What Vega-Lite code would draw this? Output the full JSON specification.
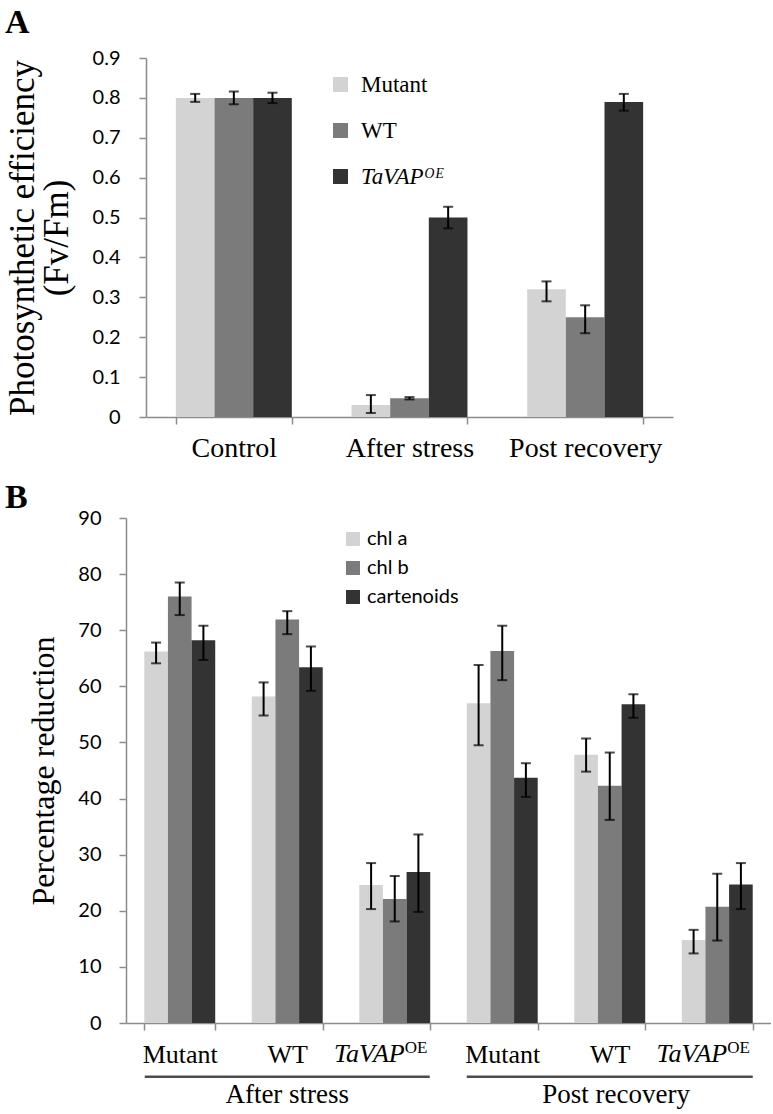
{
  "$schema": "https://vega.github.io/schema/vega-lite/v6.json",
  "background": "white",
  "padding": {"left": 5, "top": 6, "right": 0, "bottom": 0},
  "config": {
    "view": {"stroke": null},
    "axis": {"grid": false, "domainColor": "#8c8c8c", "tickColor": "#8c8c8c", "domainWidth": 1.5, "tickWidth": 1.5, "tickSize": 7, "labelColor": "black", "titleColor": "black", "titleFontWeight": "normal"}
  },
  "columns": 1,
  "spacing": 19,
  "resolve": {"scale": {"color": "independent", "xOffset": "independent", "x": "independent", "y": "independent"}, "legend": {"color": "independent"}},
  "concat": [
    {
      "width": 547,
      "height": 359,
      "title": {"text": "\u00a0A", "anchor": "start", "frame": "group", "dx": -121, "font": "Liberation Serif", "fontSize": 34, "fontWeight": "bold", "baseline": "alphabetic", "offset": -19, "color": "black"},
      "data": {"values": [
        {"cond": "Control", "geno": "Mutant", "v": 0.80, "lo": 0.79, "hi": 0.81},
        {"cond": "Control", "geno": "WT", "v": 0.80, "lo": 0.784, "hi": 0.816},
        {"cond": "Control", "geno": "TaVAP", "v": 0.80, "lo": 0.787, "hi": 0.813},
        {"cond": "After stress", "geno": "Mutant", "v": 0.03, "lo": 0.01, "hi": 0.055},
        {"cond": "After stress", "geno": "WT", "v": 0.047, "lo": 0.044, "hi": 0.05},
        {"cond": "After stress", "geno": "TaVAP", "v": 0.50, "lo": 0.473, "hi": 0.527},
        {"cond": "Post recovery", "geno": "Mutant", "v": 0.32, "lo": 0.29, "hi": 0.34},
        {"cond": "Post recovery", "geno": "WT", "v": 0.25, "lo": 0.21, "hi": 0.28},
        {"cond": "Post recovery", "geno": "TaVAP", "v": 0.79, "lo": 0.768, "hi": 0.81}
      ]},
      "encoding": {
        "x": {"field": "cond", "type": "nominal", "sort": ["Control", "After stress", "Post recovery"],
          "scale": {"range": [20, 547], "paddingInner": 0.34, "paddingOuter": 0.17},
          "axis": {"title": null, "labelAngle": 0, "labelFont": "Liberation Serif", "labelFontSize": 28, "labelPadding": 10, "tickBand": "extent"}},
        "xOffset": {"field": "geno", "type": "nominal", "scale": {"domain": ["Mutant", "WT", "TaVAP"]}}
      },
      "layer": [
        {
          "mark": {"type": "bar"},
          "encoding": {
            "y": {"field": "v", "type": "quantitative", "scale": {"domain": [0, 0.9]},
              "axis": {"offset": -20, "values": [0, 0.1, 0.2, 0.3, 0.4, 0.5, 0.6, 0.7, 0.8, 0.9], "labelOverlap": false, "labelExpr": "datum.value == 0 ? '0' : format(datum.value, '.1f')", "labelFont": "Lato", "labelFontSize": 20, "labelPadding": 19,
                "title": ["Photosynthetic efficiency", "(Fv/Fm)"], "titleFont": "Liberation Serif", "titleFontSize": 35, "titleLineHeight": 34, "titlePadding": 18}},
            "color": {"field": "geno", "type": "nominal",
              "scale": {"domain": ["Mutant", "WT", "TaVAP"], "range": ["#d3d3d3", "#7b7b7b", "#333333"]},
              "legend": {"title": null, "orient": "none", "legendX": 203, "legendY": 15, "symbolType": "square", "symbolSize": 225, "symbolStrokeWidth": 0, "symbolOpacity": 1,
                "labelFont": "Liberation Serif", "labelFontSize": 23, "labelOffset": 9, "rowPadding": 22,
                "labelExpr": "datum.value == 'TaVAP' ? 'TaVAP\u1d3c\u1d31' : datum.value == 'WT' ? '\u2002WT' : datum.value",
                "encode": {"labels": {"update": {"fontStyle": {"signal": "datum.value == 'TaVAP' ? 'italic' : 'normal'"}}}}}}
          }
        },
        {
          "mark": {"type": "rule", "color": "black", "strokeWidth": 2},
          "encoding": {"y": {"field": "lo", "type": "quantitative",
              "axis": {"offset": -20, "values": [0, 0.1, 0.2, 0.3, 0.4, 0.5, 0.6, 0.7, 0.8, 0.9], "labelOverlap": false, "labelExpr": "datum.value == 0 ? '0' : format(datum.value, '.1f')", "labelFont": "Lato", "labelFontSize": 20, "labelPadding": 19,
                "title": ["Photosynthetic efficiency", "(Fv/Fm)"], "titleFont": "Liberation Serif", "titleFontSize": 35, "titleLineHeight": 34, "titlePadding": 18}},
            "y2": {"field": "hi"}}
        },
        {
          "mark": {"type": "tick", "color": "black", "thickness": 2, "size": 10},
          "encoding": {"y": {"field": "lo", "type": "quantitative",
              "axis": {"offset": -20, "values": [0, 0.1, 0.2, 0.3, 0.4, 0.5, 0.6, 0.7, 0.8, 0.9], "labelOverlap": false, "labelExpr": "datum.value == 0 ? '0' : format(datum.value, '.1f')", "labelFont": "Lato", "labelFontSize": 20, "labelPadding": 19,
                "title": ["Photosynthetic efficiency", "(Fv/Fm)"], "titleFont": "Liberation Serif", "titleFontSize": 35, "titleLineHeight": 34, "titlePadding": 18}}}
        },
        {
          "mark": {"type": "tick", "color": "black", "thickness": 2, "size": 10},
          "encoding": {"y": {"field": "hi", "type": "quantitative",
              "axis": {"offset": -20, "values": [0, 0.1, 0.2, 0.3, 0.4, 0.5, 0.6, 0.7, 0.8, 0.9], "labelOverlap": false, "labelExpr": "datum.value == 0 ? '0' : format(datum.value, '.1f')", "labelFont": "Lato", "labelFontSize": 20, "labelPadding": 19,
                "title": ["Photosynthetic efficiency", "(Fv/Fm)"], "titleFont": "Liberation Serif", "titleFontSize": 35, "titleLineHeight": 34, "titlePadding": 18}}}
        }
      ]
    },
    {
      "width": 645,
      "height": 505,
      "title": {"text": "\u00a0B", "anchor": "start", "frame": "group", "dx": -121, "font": "Liberation Serif", "fontSize": 34, "fontWeight": "bold", "baseline": "alphabetic", "offset": -34, "color": "black"},
      "data": {"values": [
        {"grp": "AS_Mutant", "pig": "chl a", "v": 66.2, "lo": 64.1, "hi": 67.8},
        {"grp": "AS_Mutant", "pig": "chl b", "v": 76.0, "lo": 72.7, "hi": 78.5},
        {"grp": "AS_Mutant", "pig": "cartenoids", "v": 68.2, "lo": 64.7, "hi": 70.8},
        {"grp": "AS_WT", "pig": "chl a", "v": 58.2, "lo": 54.8, "hi": 60.7},
        {"grp": "AS_WT", "pig": "chl b", "v": 71.9, "lo": 69.3, "hi": 73.4},
        {"grp": "AS_WT", "pig": "cartenoids", "v": 63.4, "lo": 59.2, "hi": 67.1},
        {"grp": "AS_TaVAP", "pig": "chl a", "v": 24.6, "lo": 20.3, "hi": 28.5},
        {"grp": "AS_TaVAP", "pig": "chl b", "v": 22.1, "lo": 18.1, "hi": 26.2},
        {"grp": "AS_TaVAP", "pig": "cartenoids", "v": 26.9, "lo": 19.8, "hi": 33.6},
        {"grp": "PR_Mutant", "pig": "chl a", "v": 57.0, "lo": 49.5, "hi": 63.8},
        {"grp": "PR_Mutant", "pig": "chl b", "v": 66.3, "lo": 61.1, "hi": 70.8},
        {"grp": "PR_Mutant", "pig": "cartenoids", "v": 43.7, "lo": 40.3, "hi": 46.3},
        {"grp": "PR_WT", "pig": "chl a", "v": 47.8, "lo": 44.8, "hi": 50.7},
        {"grp": "PR_WT", "pig": "chl b", "v": 42.3, "lo": 36.2, "hi": 48.2},
        {"grp": "PR_WT", "pig": "cartenoids", "v": 56.8, "lo": 54.4, "hi": 58.6},
        {"grp": "PR_TaVAP", "pig": "chl a", "v": 14.8, "lo": 12.4, "hi": 16.6},
        {"grp": "PR_TaVAP", "pig": "chl b", "v": 20.7, "lo": 14.7, "hi": 26.6},
        {"grp": "PR_TaVAP", "pig": "cartenoids", "v": 24.7, "lo": 20.3, "hi": 28.5}
      ]},
      "encoding": {
        "x": {"field": "grp", "type": "nominal", "sort": ["AS_Mutant", "AS_WT", "AS_TaVAP", "PR_Mutant", "PR_WT", "PR_TaVAP"],
          "scale": {"paddingInner": 0.34, "paddingOuter": 0.17},
          "axis": {"title": null, "labelAngle": 0, "labelFont": "Liberation Serif", "labelFontSize": 26, "labelPadding": 11, "tickBand": "extent",
            "labelExpr": "isString(datum.value) && indexof(datum.value, 'TaVAP') < 0 ? split(datum.value, '_')[1] : ''"}}
      },
      "layer": [
        {
          "mark": {"type": "bar"},
          "encoding": {
            "xOffset": {"field": "pig", "type": "nominal", "scale": {"domain": ["chl a", "chl b", "cartenoids"]}},
            "y": {"field": "v", "type": "quantitative", "scale": {"domain": [0, 90]},
              "axis": {"values": [0, 10, 20, 30, 40, 50, 60, 70, 80, 90], "labelOverlap": false, "labelFont": "Lato", "labelFontSize": 20, "labelPadding": 18,
                "title": "Percentage reduction", "titleFont": "Liberation Serif", "titleFontSize": 32, "titlePadding": 17}},
            "color": {"field": "pig", "type": "nominal",
              "scale": {"domain": ["chl a", "chl b", "cartenoids"], "range": ["#d3d3d3", "#7b7b7b", "#333333"]},
              "legend": {"title": null, "orient": "none", "legendX": 217, "legendY": 11, "symbolType": "square", "symbolSize": 196, "symbolStrokeWidth": 0, "symbolOpacity": 1,
                "labelFont": "Lato", "labelFontSize": 20, "labelOffset": 4, "rowPadding": 9}}
          }
        },
        {
          "mark": {"type": "rule", "color": "black", "strokeWidth": 2},
          "encoding": {"xOffset": {"field": "pig", "type": "nominal", "scale": {"domain": ["chl a", "chl b", "cartenoids"]}},
            "y": {"field": "lo", "type": "quantitative",
              "axis": {"values": [0, 10, 20, 30, 40, 50, 60, 70, 80, 90], "labelOverlap": false, "labelFont": "Lato", "labelFontSize": 20, "labelPadding": 18,
                "title": "Percentage reduction", "titleFont": "Liberation Serif", "titleFontSize": 32, "titlePadding": 17}},
            "y2": {"field": "hi"}}
        },
        {
          "mark": {"type": "tick", "color": "black", "thickness": 2, "size": 10},
          "encoding": {"xOffset": {"field": "pig", "type": "nominal", "scale": {"domain": ["chl a", "chl b", "cartenoids"]}},
            "y": {"field": "lo", "type": "quantitative",
              "axis": {"values": [0, 10, 20, 30, 40, 50, 60, 70, 80, 90], "labelOverlap": false, "labelFont": "Lato", "labelFontSize": 20, "labelPadding": 18,
                "title": "Percentage reduction", "titleFont": "Liberation Serif", "titleFontSize": 32, "titlePadding": 17}}}
        },
        {
          "mark": {"type": "tick", "color": "black", "thickness": 2, "size": 10},
          "encoding": {"xOffset": {"field": "pig", "type": "nominal", "scale": {"domain": ["chl a", "chl b", "cartenoids"]}},
            "y": {"field": "hi", "type": "quantitative",
              "axis": {"values": [0, 10, 20, 30, 40, 50, 60, 70, 80, 90], "labelOverlap": false, "labelFont": "Lato", "labelFontSize": 20, "labelPadding": 18,
                "title": "Percentage reduction", "titleFont": "Liberation Serif", "titleFontSize": 32, "titlePadding": 17}}}
        },
        {
          "data": {"values": [{"grp": "AS_TaVAP"}, {"grp": "PR_TaVAP"}]},
          "mark": {"type": "text", "text": "TaVAP", "font": "Liberation Serif", "fontSize": 26, "fontStyle": "italic", "align": "right", "baseline": "alphabetic", "dx": 10, "color": "black"},
          "encoding": {"x": {"field": "grp", "type": "nominal"}, "y": {"datum": -6.95}}
        },
        {
          "data": {"values": [{"grp": "AS_TaVAP"}, {"grp": "PR_TaVAP"}]},
          "mark": {"type": "text", "text": "OE", "font": "Liberation Serif", "fontSize": 17, "align": "left", "baseline": "alphabetic", "dx": 10, "color": "black"},
          "encoding": {"x": {"field": "grp", "type": "nominal"}, "y": {"datum": -5.4}}
        },
        {
          "data": {"values": [{"grp": "AS_WT"}]},
          "mark": {"type": "tick", "color": "black", "thickness": 2.5, "size": 285},
          "encoding": {"x": {"field": "grp", "type": "nominal", "bandPosition": 0.48}, "y": {"datum": -9.6}}
        },
        {
          "data": {"values": [{"grp": "PR_WT"}]},
          "mark": {"type": "tick", "color": "black", "thickness": 2.5, "size": 286},
          "encoding": {"x": {"field": "grp", "type": "nominal", "bandPosition": 0.49}, "y": {"datum": -9.6}}
        },
        {
          "data": {"values": [{"grp": "AS_WT", "t": "After stress"}]},
          "mark": {"type": "text", "font": "Liberation Serif", "fontSize": 27, "align": "center", "baseline": "alphabetic", "color": "black"},
          "encoding": {"x": {"field": "grp", "type": "nominal", "bandPosition": 0.5}, "y": {"datum": -14.3}, "text": {"field": "t"}}
        },
        {
          "data": {"values": [{"grp": "PR_WT", "t": "Post recovery"}]},
          "mark": {"type": "text", "font": "Liberation Serif", "fontSize": 27, "align": "center", "baseline": "alphabetic", "color": "black"},
          "encoding": {"x": {"field": "grp", "type": "nominal", "bandPosition": 0.59}, "y": {"datum": -14.3}, "text": {"field": "t"}}
        }
      ]
    }
  ]
}
